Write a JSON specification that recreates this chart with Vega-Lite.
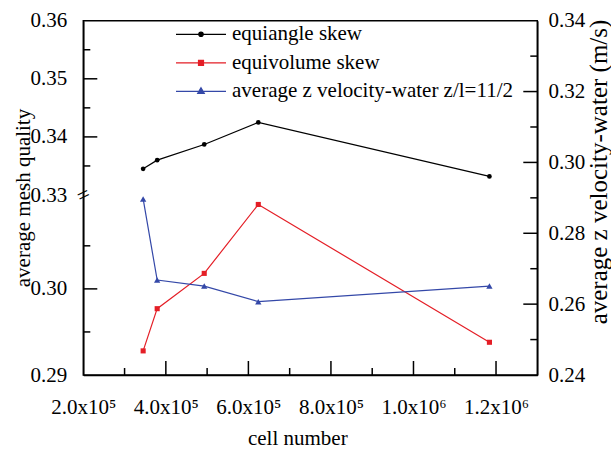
{
  "$schema": "https://vega.github.io/schema/vega-lite/v6.json",
  "width": 454,
  "height": 354.3,
  "autosize": "none",
  "padding": {"left": 83.3, "top": 20.7, "right": 73.7, "bottom": 75},
  "background": "white",
  "config": {
    "font": "Liberation Serif",
    "view": {"stroke": "black", "strokeWidth": 1.5},
    "axis": {
      "grid": false,
      "domainColor": "black",
      "domainWidth": 1.5,
      "labelFont": "Liberation Serif",
      "labelFontSize": 21,
      "labelColor": "black",
      "labelFlush": false,
      "labelOverlap": false,
      "titleFont": "Liberation Serif",
      "titleFontSize": 21,
      "titleFontWeight": "normal",
      "titleColor": "black"
    },
    "legend": {
      "orient": "none",
      "legendX": 106.7,
      "legendY": 2.6,
      "padding": 0,
      "labelFont": "Liberation Serif",
      "labelFontSize": 21,
      "labelColor": "black",
      "labelLimit": 0,
      "labelOffset": 20,
      "rowPadding": 7.5,
      "symbolSize": 400,
      "symbolStrokeWidth": 1.2,
      "symbolOpacity": 1
    }
  },
  "datasets": {
    "main": [
      {"series": "equiangle skew", "cells": 345000, "value": 0.3345},
      {"series": "equiangle skew", "cells": 379000, "value": 0.3360},
      {"series": "equiangle skew", "cells": 493000, "value": 0.3387},
      {"series": "equiangle skew", "cells": 624000, "value": 0.3425},
      {"series": "equiangle skew", "cells": 1184000, "value": 0.3332},
      {"series": "equivolume skew", "cells": 345000, "value": 0.2928},
      {"series": "equivolume skew", "cells": 379000, "value": 0.2977},
      {"series": "equivolume skew", "cells": 493000, "value": 0.3018},
      {"series": "equivolume skew", "cells": 624000, "value": 0.3098},
      {"series": "equivolume skew", "cells": 1184000, "value": 0.2938},
      {"series": "average z velocity-water z/l=11/2", "cells": 345000, "value": 0.2897},
      {"series": "average z velocity-water z/l=11/2", "cells": 379000, "value": 0.2668},
      {"series": "average z velocity-water z/l=11/2", "cells": 493000, "value": 0.2651},
      {"series": "average z velocity-water z/l=11/2", "cells": 624000, "value": 0.2607},
      {"series": "average z velocity-water z/l=11/2", "cells": 1184000, "value": 0.2651}
    ]
  },
  "data": {"name": "main"},
  "layer": [
    {
      "encoding": {
        "x": {
          "field": "cells",
          "type": "quantitative",
          "scale": {"domain": [200000, 1300000], "nice": false, "zero": false},
          "axis": {
            "orient": "bottom",
            "values": [200000, 400000, 600000, 800000, 1000000, 1200000],
            "labelExpr": "datum.value<999999 ? format(datum.value/100000,'.1f')+'x10⁵' : format(datum.value/1000000,'.1f')+'x10⁶'",
            "ticks": false,
            "labelPadding": 21,
            "title": "cell number",
            "titleX": 214,
            "titleY": 63.5,
            "titleAlign": "center",
            "titleBaseline": "middle",
            "titleAnchor": null
          }
        }
      },
      "layer": [
        {
          "transform": [{"filter": "datum.series=='equiangle skew'"}],
          "mark": {"type": "line", "color": "black", "strokeWidth": 1.2, "point": {"shape": "circle", "filled": true, "size": 22, "color": "black"}},
          "encoding": {
            "y": {
              "field": "value",
              "type": "quantitative",
              "scale": {"domain": [0.29, 0.3109, 0.33, 0.36], "range": [354.3, 174.3, 174.3, 0], "zero": false, "nice": false},
              "axis": {
                "orient": "left",
                "values": [0.29, 0.30, 0.33, 0.34, 0.35, 0.36],
                "format": ".2f",
                "ticks": false,
                "labelPadding": 16.6,
                "title": "average mesh quality",
                "titleAngle": 270,
                "titleX": -60.3,
                "titleY": 176.8,
                "titleAlign": "center",
                "titleBaseline": "middle",
                "titleAnchor": null
              }
            }
          }
        },
        {
          "transform": [{"filter": "datum.series=='equivolume skew'"}],
          "mark": {"type": "line", "color": "#e41e26", "strokeWidth": 1.2, "point": {"shape": "square", "filled": true, "size": 26, "color": "#e41e26"}},
          "encoding": {
            "y": {
              "field": "value",
              "type": "quantitative",
              "scale": {"domain": [0.29, 0.3109, 0.33, 0.36], "range": [354.3, 174.3, 174.3, 0], "zero": false, "nice": false},
              "axis": null
            }
          }
        },
        {
          "mark": {"type": "point", "filled": true, "opacity": 0, "strokeWidth": 1.2},
          "encoding": {
            "y": {
              "field": "value",
              "type": "quantitative",
              "scale": {"domain": [0.29, 0.3109, 0.33, 0.36], "range": [354.3, 174.3, 174.3, 0], "zero": false, "nice": false},
              "axis": null
            },
            "fill": {"field": "series", "type": "nominal", "scale": {"domain": ["equiangle skew", "equivolume skew", "average z velocity-water z/l=11/2"], "range": ["black", "#e41e26", "#3448a8"]}, "legend": {"title": null}},
            "stroke": {"field": "series", "type": "nominal", "scale": {"domain": ["equiangle skew", "equivolume skew", "average z velocity-water z/l=11/2"], "range": ["black", "#e41e26", "#3448a8"]}, "legend": {"title": null}},
            "shape": {"field": "series", "type": "nominal", "scale": {"domain": ["equiangle skew", "equivolume skew", "average z velocity-water z/l=11/2"], "range": ["M-2.5,0H2.5M0.22,0A0.22,0.22,0,1,1,-0.22,0A0.22,0.22,0,1,1,0.22,0Z", "M-2.5,0H2.5M-0.25,-0.25H0.25V0.25H-0.25Z", "M-2.5,0H2.5M0,-0.35L0.33,0.22H-0.33Z"]}, "legend": {"title": null}}
          }
        },
        {
          "data": {"values": [{"cells": 200000, "value": 0.30}, {"cells": 200000, "value": 0.34}, {"cells": 200000, "value": 0.35}]},
          "mark": {"type": "tick", "orient": "horizontal", "size": 14, "thickness": 1.5, "color": "black", "opacity": 1, "xOffset": 7},
          "encoding": {
            "y": {
              "field": "value",
              "type": "quantitative",
              "scale": {"domain": [0.29, 0.3109, 0.33, 0.36], "range": [354.3, 174.3, 174.3, 0], "zero": false, "nice": false},
              "axis": null
            }
          }
        },
        {
          "data": {"values": [{"cells": 200000, "value": 0.295}, {"cells": 200000, "value": 0.305}, {"cells": 200000, "value": 0.335}, {"cells": 200000, "value": 0.345}, {"cells": 200000, "value": 0.355}]},
          "mark": {"type": "tick", "orient": "horizontal", "size": 7, "thickness": 1.5, "color": "black", "opacity": 1, "xOffset": 3.5},
          "encoding": {
            "y": {
              "field": "value",
              "type": "quantitative",
              "scale": {"domain": [0.29, 0.3109, 0.33, 0.36], "range": [354.3, 174.3, 174.3, 0], "zero": false, "nice": false},
              "axis": null
            }
          }
        },
        {
          "data": {"values": [{"cells": 200000, "value": 0.33}]},
          "mark": {"type": "text", "text": "=", "angle": 335, "fontSize": 22, "color": "black", "font": "Liberation Serif"},
          "encoding": {
            "y": {
              "field": "value",
              "type": "quantitative",
              "scale": {"domain": [0.29, 0.3109, 0.33, 0.36], "range": [354.3, 174.3, 174.3, 0], "zero": false, "nice": false},
              "axis": null
            }
          }
        }
      ],
      "resolve": {"axis": {"y": "independent"}}
    },
    {
      "encoding": {
        "x": {
          "field": "cells",
          "type": "quantitative",
          "scale": {"domain": [200000, 1300000], "nice": false, "zero": false},
          "axis": null
        }
      },
      "layer": [
        {
          "transform": [{"filter": "datum.series=='average z velocity-water z/l=11/2'"}],
          "mark": {"type": "line", "color": "#3448a8", "strokeWidth": 1.2, "point": {"shape": "triangle-up", "filled": true, "size": 40, "color": "#3448a8"}},
          "encoding": {
            "y": {
              "field": "value",
              "type": "quantitative",
              "scale": {"domain": [0.24, 0.34], "zero": false, "nice": false},
              "axis": {
                "orient": "right",
                "values": [0.24, 0.26, 0.28, 0.30, 0.32, 0.34],
                "format": ".2f",
                "ticks": false,
                "labelPadding": 10.7,
                "title": "average z velocity-water (m/s)",
                "titleFontSize": 25,
                "titleAngle": 270,
                "titleX": 60.7,
                "titleY": 150.8,
                "titleAlign": "center",
                "titleBaseline": "middle",
                "titleAnchor": null
              }
            }
          }
        },
        {
          "data": {"values": [{"cells": 1300000, "value": 0.26}, {"cells": 1300000, "value": 0.28}, {"cells": 1300000, "value": 0.30}, {"cells": 1300000, "value": 0.32}]},
          "mark": {"type": "tick", "orient": "horizontal", "size": 14, "thickness": 1.5, "color": "black", "opacity": 1, "xOffset": -7},
          "encoding": {
            "y": {"field": "value", "type": "quantitative", "scale": {"domain": [0.24, 0.34], "zero": false, "nice": false}, "axis": null}
          }
        },
        {
          "data": {"values": [{"cells": 1300000, "value": 0.25}, {"cells": 1300000, "value": 0.27}, {"cells": 1300000, "value": 0.29}, {"cells": 1300000, "value": 0.31}, {"cells": 1300000, "value": 0.33}]},
          "mark": {"type": "tick", "orient": "horizontal", "size": 7, "thickness": 1.5, "color": "black", "opacity": 1, "xOffset": -3.5},
          "encoding": {
            "y": {"field": "value", "type": "quantitative", "scale": {"domain": [0.24, 0.34], "zero": false, "nice": false}, "axis": null}
          }
        },
        {
          "data": {"values": [{"cells": 400000, "value": 0.24}, {"cells": 600000, "value": 0.24}, {"cells": 800000, "value": 0.24}, {"cells": 1000000, "value": 0.24}, {"cells": 1200000, "value": 0.24}]},
          "mark": {"type": "tick", "orient": "vertical", "size": 14, "thickness": 1.5, "color": "black", "opacity": 1, "yOffset": -7},
          "encoding": {
            "y": {"field": "value", "type": "quantitative", "scale": {"domain": [0.24, 0.34], "zero": false, "nice": false}, "axis": null}
          }
        },
        {
          "data": {"values": [{"cells": 300000, "value": 0.24}, {"cells": 500000, "value": 0.24}, {"cells": 700000, "value": 0.24}, {"cells": 900000, "value": 0.24}, {"cells": 1100000, "value": 0.24}]},
          "mark": {"type": "tick", "orient": "vertical", "size": 7, "thickness": 1.5, "color": "black", "opacity": 1, "yOffset": -3.5},
          "encoding": {
            "y": {"field": "value", "type": "quantitative", "scale": {"domain": [0.24, 0.34], "zero": false, "nice": false}, "axis": null}
          }
        }
      ],
      "resolve": {"axis": {"y": "independent"}}
    }
  ],
  "resolve": {"scale": {"y": "independent"}, "axis": {"x": "independent"}}
}
